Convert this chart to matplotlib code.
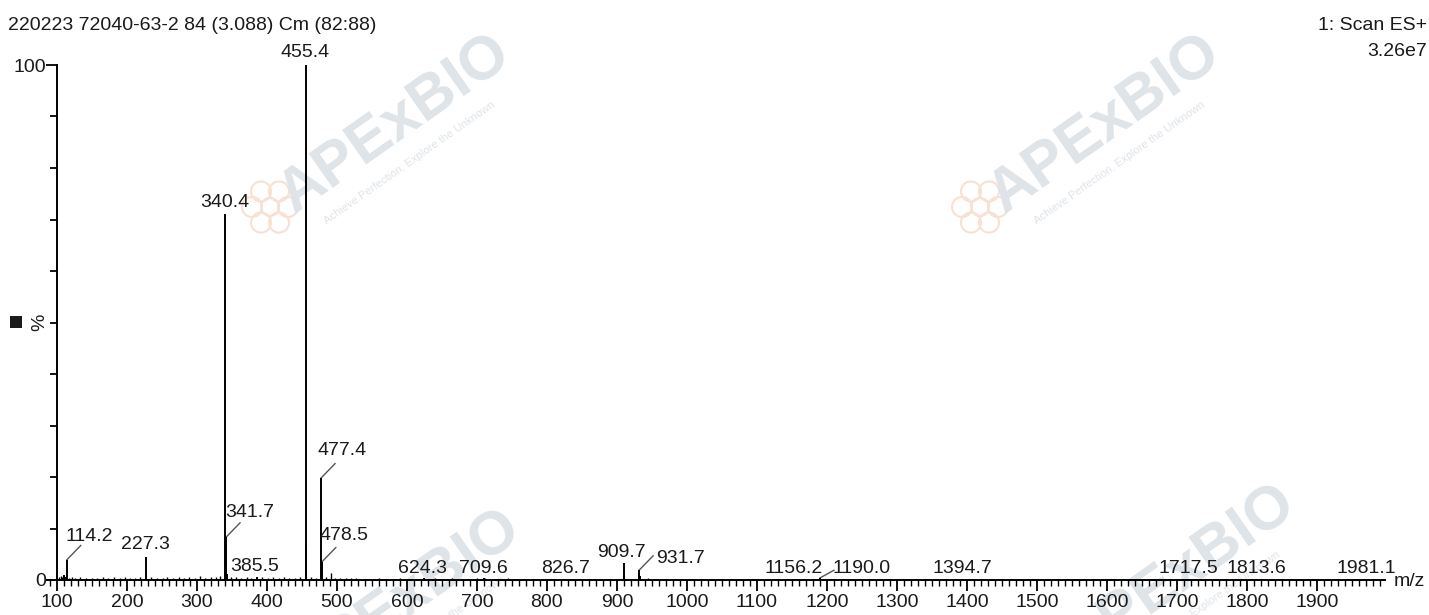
import matplotlib
matplotlib.use("Agg")
import numpy as np
import matplotlib.pyplot as plt
from matplotlib.ticker import MultipleLocator, FixedLocator, NullFormatter
from matplotlib.patches import Rectangle, Circle

plt.rcParams['font.family'] = ['Liberation Sans', 'DejaVu Sans']

# ---------------- data ----------------
title_left = "220223 72040-63-2 84 (3.088) Cm (82:88)"
title_right1 = "1: Scan ES+"
title_right2 = "3.26e7"

label_mz = [114.2, 227.3, 340.4, 341.7, 385.5, 455.4, 477.4, 478.5, 624.3, 709.6,
            826.7, 909.7, 931.7, 1156.2, 1190.0, 1394.7, 1717.5, 1813.6, 1981.1]
label_int = [3.9, 4.5, 71.0, 8.3, 0.6, 100.0, 19.8, 3.5, 0.3, 0.3,
             0.2, 3.3, 1.9, 0.2, 0.4, 0.2, 0.2, 0.2, 0.2]
label_text = ["114.2", "227.3", "340.4", "341.7", "385.5", "455.4", "477.4", "478.5",
              "624.3", "709.6", "826.7", "909.7", "931.7", "1156.2", "1190.0",
              "1394.7", "1717.5", "1813.6", "1981.1"]

extra_mz = [456.4, 342.7, 910.7, 932.7, 110.0, 112.5]
extra_int = [6.4, 1.2, 0.9, 0.8, 0.9, 0.6]

noise_mz = [103, 106, 108, 117, 121, 126, 133, 141, 150, 158, 166, 173, 181, 190, 197,
            204, 212, 219, 235, 243, 251, 258, 266, 274, 281, 289, 297, 305, 312, 320,
            327, 333, 349, 356, 363, 371, 378, 393, 401, 409, 417, 425, 432, 440, 447,
            463, 470, 485, 491, 497, 505, 513, 520, 527, 560, 590, 640, 665, 700, 712,
            745, 780, 870, 945, 955]
noise_int = [0.6, 0.8, 0.5, 0.4, 0.5, 0.4, 0.5, 0.3, 0.4, 0.3, 0.5, 0.3, 0.6, 0.4, 0.5,
             0.4, 0.3, 0.5, 0.6, 0.4, 0.3, 0.5, 0.4, 0.6, 0.3, 0.5, 0.4, 0.7, 0.4, 0.5,
             0.6, 0.8, 0.6, 0.5, 0.4, 0.5, 0.4, 0.5, 0.3, 0.6, 0.4, 0.5, 0.3, 0.4, 0.6,
             0.5, 0.4, 0.6, 1.4, 0.4, 0.3, 0.4, 0.3, 0.3, 0.3, 0.3, 0.4, 0.3, 0.3, 0.3,
             0.3, 0.2, 0.2, 0.3, 0.2]

x_major = [100, 200, 300, 400, 500, 600, 700, 800, 900, 1000,
           1100, 1200, 1300, 1400, 1500, 1600, 1700, 1800, 1900]

# label placement: (text x in m/z, text y in %, leader?)
label_place = {
    "114.2": (147, 6.8, True),
    "227.3": (227, 5.2, False),
    "340.4": (340, 71.6, False),
    "341.7": (376, 11.4, True),
    "385.5": (383, 0.9, False),
    "455.4": (454, 100.8, False),
    "477.4": (508, 23.4, True),
    "478.5": (510, 6.9, True),
    "624.3": (623, 0.6, False),
    "709.6": (709, 0.6, False),
    "826.7": (827, 0.6, False),
    "909.7": (907, 3.7, False),
    "931.7": (991, 2.5, True),
    "1156.2": (1153, 0.6, False),
    "1190.0": (1249, 0.6, True),
    "1394.7": (1393, 0.6, False),
    "1717.5": (1716, 0.6, False),
    "1813.6": (1813, 0.6, False),
    "1981.1": (1970, 0.6, False),
}

FS = 14
TXT = '#1a1a1a'

# ---------------- figure ----------------
W, H = 1429, 615
fig = plt.figure(figsize=(W / 100, H / 100), dpi=100)
fig.patch.set_facecolor('white')

# full-figure background axes for the watermarks (clipped to the figure)
bg = fig.add_axes([0, 0, 1, 1], zorder=-1)
bg.set_xlim(0, W)
bg.set_ylim(H, 0)
bg.axis('off')
wm_col = '#dfe4e9'
for (cx, cy) in [(395, 125), (1105, 125), (405, 600), (1180, 575)]:
    bg.text(cx, cy, "APExBIO", fontsize=44, fontweight='bold', color=wm_col,
            rotation=35, ha='center', va='center', clip_on=True)
    bg.text(cx + 15, cy + 38, "Achieve Perfection, Explore the Unknown",
            fontsize=8, color=wm_col, rotation=35, ha='center', va='center', clip_on=True)
    fx, fy = cx - 125, cy + 82
    bg.add_patch(Circle((fx, fy), 9, facecolor='none', edgecolor='#f8e0d2', lw=1.5))
    for ang in np.deg2rad([0, 60, 120, 180, 240, 300]):
        bg.add_patch(Circle((fx + 18 * np.cos(ang), fy + 18 * np.sin(ang)), 10,
                            facecolor='none', edgecolor='#f8e0d2', lw=1.5))

ax = fig.add_axes([47 / W, 35 / H, (1385 - 47) / W, (580 - 65) / H])
ax.patch.set_alpha(0)
ax.set_xlim(86, 1997)
ax.set_ylim(0, 100)

# spectrum
ax.vlines(noise_mz, 0, noise_int, color='black', lw=1.0, zorder=3)
ax.vlines(extra_mz, 0, extra_int, color='black', lw=1.4, zorder=3)
ax.vlines(label_mz, 0, label_int, color='black', lw=1.4, zorder=3)

for mz, it, txt in zip(label_mz, label_int, label_text):
    tx, ty, leader = label_place[txt]
    ax.text(tx, ty, txt, ha='center', va='bottom', fontsize=FS, color=TXT,
            clip_on=False, zorder=4)
    if leader:
        if txt == "1190.0":
            ax.plot([mz, 1210], [it, 1.9], color='#555555', lw=1.0, clip_on=False)
        else:
            ax.plot([mz, mz + 20], [it, it + 2.8], color='#555555', lw=1.0, clip_on=False)

# spines & ticks
for s in ['top', 'right']:
    ax.spines[s].set_visible(False)
ax.spines['left'].set_position(('data', 100))
ax.spines['left'].set_linewidth(1.4)
ax.spines['bottom'].set_linewidth(1.4)

ax.xaxis.set_major_locator(FixedLocator(x_major))
ax.set_xticklabels([str(v) for v in x_major], fontsize=FS, color=TXT)
ax.xaxis.set_minor_locator(MultipleLocator(10))
ax.tick_params(axis='x', which='major', direction='out', length=8, width=1.3, pad=2)
ax.tick_params(axis='x', which='minor', direction='out', length=4, width=1.0)

ax.yaxis.set_major_locator(FixedLocator([0, 100]))
ax.set_yticklabels(["0", "100"], fontsize=FS, color=TXT)
ax.yaxis.set_minor_locator(MultipleLocator(10))
ax.yaxis.set_minor_formatter(NullFormatter())
ax.tick_params(axis='y', which='major', direction='out', length=8, width=1.3, pad=0)
ax.tick_params(axis='y', which='minor', direction='out', length=5, width=1.3)

fig.text(1394 / W, 1 - 582 / H, "m/z", fontsize=FS, ha='left', va='center', color=TXT)

# y label with square
fig.patches.append(Rectangle((10 / W, 1 - 328 / H), 12 / W, 12 / H, transform=fig.transFigure,
                             facecolor='#1a1a1a', edgecolor='none'))
fig.text(40 / W, 1 - 322 / H, "%", rotation=90, fontsize=FS, ha='center', va='center', color=TXT)

# header
fig.text(8 / W, 1 - 25 / H, title_left, fontsize=FS, ha='left', va='center', color=TXT)
fig.text(1427 / W, 1 - 25 / H, title_right1, fontsize=FS, ha='right', va='center', color=TXT)
fig.text(1427 / W, 1 - 51 / H, title_right2, fontsize=FS, ha='right', va='center', color=TXT)

fig.savefig("out.png", dpi=100)
